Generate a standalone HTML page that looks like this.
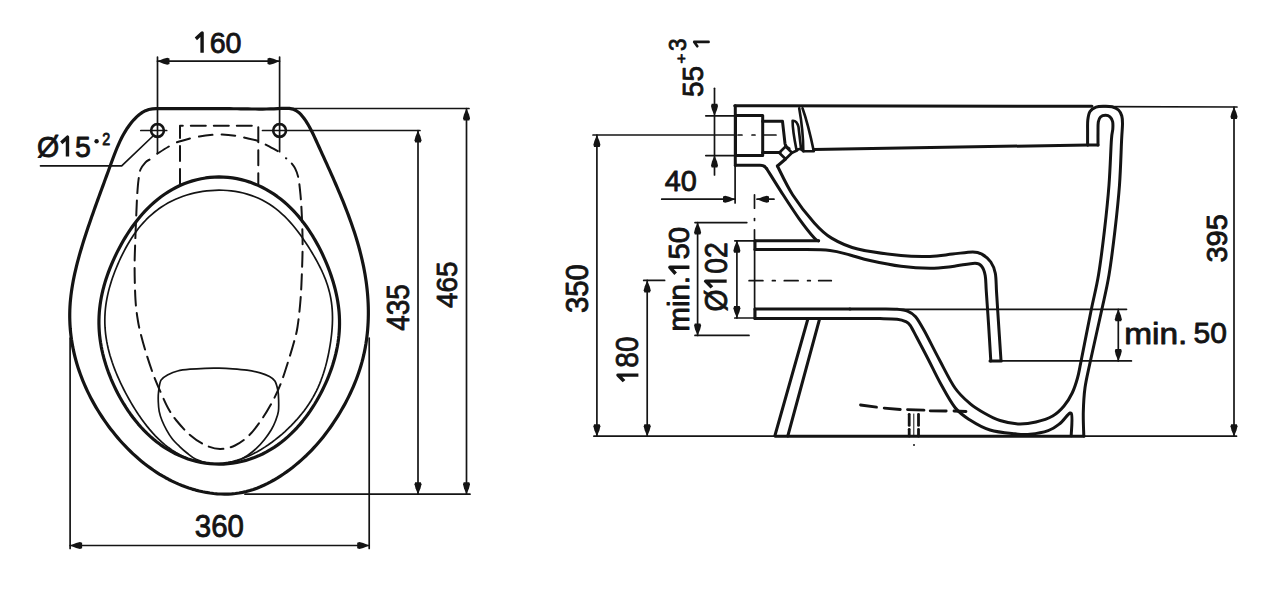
<!DOCTYPE html>
<html><head><meta charset="utf-8"><style>
html,body{margin:0;padding:0;background:#fff;overflow:hidden;}
svg{display:block;}
text{font-family:"Liberation Sans",sans-serif;fill:#141414;stroke:#141414;stroke-width:0.85px;}
.ar{fill:#141414;stroke:none;}
.inv{fill:none;stroke:none;}
</style></head><body>
<svg width="1265" height="599" viewBox="0 0 1265 599">
<g fill="none" stroke="#141414" stroke-linecap="round" stroke-linejoin="round">
<path d="M159.88,108.68 L163.64,108.69 L167.39,108.69 L171.13,108.69 L174.86,108.68 L178.58,108.68 L182.29,108.67 L185.99,108.66 L189.68,108.65 L193.36,108.65 L197.04,108.64 L200.71,108.63 L204.37,108.63 L208.02,108.63 L211.68,108.63 L215.32,108.63 L218.96,108.64 L222.60,108.66 L226.24,108.68 L229.87,108.70 L233.50,108.73 L237.13,108.77 L240.76,108.82 L244.39,108.87 L248.02,108.93 L251.66,108.98 L255.32,109.01 L259.00,109.03 L262.69,109.03 L266.42,109.00 L270.18,108.93 L273.97,108.83 L277.80,108.68 L281.68,108.47 L285.55,108.32 L289.30,108.44 L292.79,109.09 L295.94,110.45 L298.75,112.44 L301.27,114.91 L303.56,117.71 L305.67,120.69 L307.63,123.78 L309.46,126.96 L311.18,130.21 L312.83,133.52 L314.42,136.88 L315.97,140.26 L317.51,143.64 L319.05,147.03 L320.59,150.41 L322.14,153.80 L323.68,157.18 L325.22,160.56 L326.75,163.94 L328.28,167.32 L329.80,170.70 L331.32,174.09 L332.82,177.47 L334.31,180.86 L335.79,184.25 L337.25,187.64 L338.70,191.03 L340.13,194.42 L341.55,197.83 L342.94,201.23 L344.31,204.64 L345.66,208.05 L346.98,211.47 L348.28,214.89 L349.55,218.32 L350.79,221.76 L352.01,225.20 L353.19,228.65 L354.33,232.11 L355.45,235.58 L356.52,239.05 L357.56,242.53 L358.57,246.03 L359.53,249.53 L360.45,253.04 L361.32,256.56 L362.16,260.09 L362.94,263.64 L363.68,267.19 L364.37,270.76 L365.01,274.34 L365.60,277.93 L366.14,281.53 L366.62,285.15 L367.04,288.78 L367.41,292.43 L367.72,296.09 L367.97,299.76 L368.16,303.45 L368.29,307.14 L368.35,310.84 L368.35,314.54 L368.28,318.24 L368.15,321.95 L367.94,325.65 L367.67,329.35 L367.33,333.04 L366.92,336.73 L366.43,340.41 L365.88,344.07 L365.24,347.72 L364.53,351.36 L363.75,354.98 L362.88,358.58 L361.94,362.16 L360.92,365.71 L359.83,369.24 L358.67,372.75 L357.44,376.24 L356.14,379.70 L354.77,383.13 L353.35,386.54 L351.86,389.92 L350.31,393.27 L348.70,396.59 L347.04,399.88 L345.33,403.14 L343.56,406.36 L341.74,409.56 L339.88,412.72 L337.98,415.84 L336.03,418.93 L334.03,421.99 L331.99,425.00 L329.91,427.98 L327.78,430.92 L325.61,433.82 L323.38,436.68 L321.11,439.49 L318.78,442.27 L316.40,445.00 L313.97,447.68 L311.49,450.32 L308.95,452.91 L306.36,455.46 L303.71,457.95 L301.00,460.40 L298.24,462.80 L295.41,465.14 L292.53,467.44 L289.58,469.68 L286.57,471.87 L283.50,474.00 L280.36,476.07 L277.16,478.08 L273.91,480.01 L270.60,481.85 L267.24,483.60 L263.84,485.24 L260.40,486.77 L256.91,488.18 L253.40,489.44 L249.85,490.57 L246.27,491.54 L242.68,492.34 L239.06,492.99 L235.43,493.49 L231.79,493.83 L228.14,494.03 L224.49,494.09 L220.84,494.02 L217.20,493.81 L213.56,493.48 L209.95,493.02 L206.35,492.45 L202.77,491.77 L199.23,490.98 L195.71,490.08 L192.23,489.09 L188.77,487.99 L185.36,486.80 L181.97,485.51 L178.62,484.13 L175.31,482.66 L172.03,481.11 L168.79,479.46 L165.58,477.73 L162.42,475.93 L159.29,474.04 L156.21,472.07 L153.16,470.03 L150.16,467.91 L147.20,465.73 L144.28,463.48 L141.40,461.15 L138.57,458.77 L135.79,456.32 L133.05,453.82 L130.35,451.25 L127.71,448.63 L125.11,445.96 L122.56,443.23 L120.06,440.46 L117.61,437.64 L115.22,434.77 L112.87,431.86 L110.58,428.91 L108.34,425.93 L106.15,422.90 L104.02,419.85 L101.94,416.76 L99.92,413.64 L97.96,410.50 L96.05,407.32 L94.21,404.13 L92.42,400.90 L90.69,397.66 L89.03,394.39 L87.42,391.09 L85.89,387.77 L84.41,384.44 L83.00,381.08 L81.65,377.69 L80.38,374.29 L79.17,370.87 L78.02,367.43 L76.95,363.98 L75.95,360.50 L75.02,357.01 L74.16,353.50 L73.37,349.97 L72.66,346.43 L72.03,342.87 L71.46,339.30 L70.98,335.72 L70.57,332.12 L70.24,328.51 L69.99,324.89 L69.83,321.26 L69.74,317.62 L69.73,313.97 L69.81,310.31 L69.97,306.64 L70.21,302.96 L70.54,299.27 L70.94,295.58 L71.42,291.89 L71.96,288.20 L72.58,284.50 L73.25,280.81 L73.98,277.12 L74.77,273.44 L75.61,269.77 L76.49,266.10 L77.42,262.44 L78.39,258.80 L79.39,255.17 L80.43,251.56 L81.49,247.96 L82.58,244.38 L83.69,240.83 L84.82,237.30 L85.96,233.79 L87.11,230.30 L88.26,226.84 L89.43,223.40 L90.61,219.97 L91.80,216.56 L92.99,213.16 L94.19,209.78 L95.40,206.40 L96.62,203.02 L97.84,199.65 L99.07,196.28 L100.30,192.90 L101.54,189.52 L102.79,186.13 L104.04,182.73 L105.29,179.32 L106.55,175.90 L107.81,172.45 L109.07,168.99 L110.33,165.51 L111.61,162.00 L112.90,158.49 L114.22,154.98 L115.58,151.48 L116.99,148.00 L118.47,144.56 L120.03,141.16 L121.68,137.82 L123.42,134.54 L125.28,131.34 L127.25,128.23 L129.37,125.22 L131.63,122.31 L134.04,119.52 L136.63,116.89 L139.40,114.48 L142.35,112.39 L145.50,110.71 L148.86,109.54 L152.42,108.93 L156.12,108.71Z" stroke-width="3.2" />
<path d="M98.95,320.00 L99.07,316.23 L99.30,312.47 L99.64,308.72 L100.09,304.98 L100.64,301.25 L101.29,297.55 L102.05,293.86 L102.90,290.19 L103.84,286.54 L104.87,282.92 L105.98,279.31 L107.18,275.73 L108.46,272.16 L109.81,268.62 L111.24,265.09 L112.73,261.58 L114.31,258.08 L115.95,254.60 L117.67,251.13 L119.46,247.68 L121.32,244.24 L123.27,240.81 L125.30,237.39 L127.42,234.00 L129.62,230.62 L131.93,227.28 L134.33,223.96 L136.83,220.68 L139.45,217.44 L142.17,214.26 L145.01,211.13 L147.97,208.08 L151.05,205.11 L154.25,202.23 L157.58,199.45 L161.02,196.79 L164.58,194.25 L168.26,191.85 L172.05,189.59 L175.95,187.49 L179.94,185.56 L184.03,183.81 L188.21,182.24 L192.46,180.87 L196.78,179.69 L201.15,178.72 L205.57,177.96 L210.03,177.41 L214.51,177.08 L219.00,176.97 L223.49,177.07 L227.97,177.39 L232.43,177.92 L236.85,178.67 L241.23,179.62 L245.56,180.77 L249.82,182.12 L254.01,183.66 L258.11,185.39 L262.12,187.28 L266.04,189.34 L269.85,191.56 L273.56,193.93 L277.15,196.43 L280.62,199.06 L283.98,201.80 L287.22,204.65 L290.33,207.60 L293.33,210.63 L296.20,213.74 L298.96,216.92 L301.60,220.16 L304.13,223.44 L306.55,226.77 L308.86,230.14 L311.08,233.53 L313.20,236.95 L315.22,240.40 L317.16,243.86 L319.02,247.33 L320.80,250.82 L322.49,254.32 L324.12,257.83 L325.67,261.36 L327.15,264.90 L328.55,268.45 L329.89,272.01 L331.15,275.60 L332.34,279.20 L333.45,282.81 L334.47,286.45 L335.42,290.11 L336.27,293.79 L337.04,297.48 L337.71,301.20 L338.28,304.93 L338.75,308.68 L339.11,312.44 L339.36,316.22 L339.50,320.00 L339.54,323.79 L339.45,327.58 L339.26,331.37 L338.95,335.15 L338.53,338.93 L338.00,342.70 L337.37,346.46 L336.63,350.20 L335.79,353.93 L334.84,357.64 L333.81,361.33 L332.68,365.01 L331.46,368.66 L330.15,372.30 L328.76,375.92 L327.28,379.53 L325.72,383.11 L324.07,386.68 L322.34,390.23 L320.53,393.77 L318.63,397.28 L316.64,400.78 L314.56,404.25 L312.38,407.69 L310.11,411.11 L307.73,414.49 L305.25,417.83 L302.66,421.13 L299.96,424.37 L297.14,427.55 L294.21,430.66 L291.15,433.70 L287.98,436.64 L284.69,439.49 L281.28,442.23 L277.75,444.85 L274.11,447.35 L270.35,449.70 L266.49,451.91 L262.53,453.96 L258.47,455.84 L254.32,457.55 L250.09,459.07 L245.78,460.41 L241.42,461.54 L237.00,462.48 L232.54,463.21 L228.04,463.73 L223.53,464.04 L219.00,464.13 L214.47,464.01 L209.96,463.68 L205.47,463.14 L201.01,462.38 L196.60,461.42 L192.24,460.26 L187.95,458.91 L183.73,457.36 L179.59,455.64 L175.55,453.74 L171.59,451.67 L167.75,449.45 L164.00,447.09 L160.38,444.58 L156.86,441.95 L153.47,439.21 L150.19,436.35 L147.03,433.40 L143.99,430.37 L141.08,427.25 L138.27,424.07 L135.59,420.83 L133.01,417.53 L130.55,414.19 L128.19,410.81 L125.93,407.40 L123.77,403.96 L121.71,400.49 L119.73,397.00 L117.85,393.49 L116.06,389.96 L114.35,386.41 L112.73,382.85 L111.18,379.27 L109.73,375.68 L108.35,372.07 L107.06,368.44 L105.85,364.80 L104.74,361.14 L103.71,357.46 L102.78,353.77 L101.94,350.06 L101.19,346.33 L100.55,342.59 L100.02,338.85 L99.58,335.09 L99.26,331.32 L99.05,327.55 L98.94,323.77Z" stroke-width="3.2" />
<path d="M104.82,320.00 L104.89,316.41 L105.08,312.83 L105.37,309.26 L105.78,305.70 L106.29,302.15 L106.91,298.62 L107.62,295.10 L108.43,291.61 L109.33,288.14 L110.32,284.69 L111.38,281.26 L112.52,277.84 L113.73,274.45 L115.01,271.07 L116.36,267.70 L117.77,264.35 L119.24,261.00 L120.79,257.67 L122.40,254.35 L124.08,251.04 L125.85,247.74 L127.69,244.47 L129.63,241.21 L131.66,237.98 L133.79,234.79 L136.03,231.65 L138.38,228.56 L140.85,225.53 L143.43,222.58 L146.14,219.71 L148.96,216.94 L151.91,214.28 L154.97,211.73 L158.15,209.31 L161.43,207.02 L164.82,204.87 L168.31,202.86 L171.88,200.99 L175.54,199.28 L179.27,197.71 L183.06,196.30 L186.91,195.03 L190.82,193.91 L194.76,192.94 L198.75,192.12 L202.76,191.44 L206.80,190.91 L210.85,190.53 L214.92,190.29 L219.00,190.20 L223.08,190.27 L227.15,190.49 L231.21,190.88 L235.24,191.43 L239.25,192.14 L243.22,193.03 L247.14,194.09 L251.01,195.33 L254.81,196.74 L258.53,198.32 L262.17,200.08 L265.72,202.00 L269.16,204.08 L272.50,206.31 L275.72,208.67 L278.83,211.16 L281.82,213.77 L284.70,216.47 L287.46,219.26 L290.11,222.13 L292.65,225.05 L295.10,228.02 L297.45,231.02 L299.71,234.05 L301.90,237.10 L304.02,240.16 L306.08,243.23 L308.08,246.31 L310.02,249.40 L311.91,252.49 L313.76,255.60 L315.55,258.73 L317.28,261.88 L318.96,265.05 L320.57,268.25 L322.10,271.48 L323.56,274.75 L324.93,278.06 L326.20,281.41 L327.36,284.79 L328.42,288.21 L329.35,291.67 L330.17,295.15 L330.86,298.66 L331.42,302.19 L331.87,305.74 L332.19,309.30 L332.40,312.87 L332.49,316.43 L332.49,320.00 L332.39,323.56 L332.20,327.12 L331.93,330.68 L331.59,334.22 L331.17,337.77 L330.70,341.31 L330.16,344.85 L329.56,348.39 L328.91,351.93 L328.19,355.48 L327.40,359.03 L326.55,362.58 L325.62,366.14 L324.60,369.69 L323.50,373.25 L322.30,376.79 L321.00,380.32 L319.60,383.84 L318.08,387.33 L316.44,390.80 L314.69,394.23 L312.82,397.62 L310.83,400.96 L308.72,404.26 L306.50,407.50 L304.17,410.69 L301.72,413.83 L299.17,416.91 L296.52,419.94 L293.77,422.92 L290.93,425.84 L287.99,428.71 L284.96,431.53 L281.83,434.29 L278.61,437.00 L275.30,439.64 L271.89,442.22 L268.38,444.72 L264.77,447.14 L261.06,449.46 L257.25,451.66 L253.34,453.74 L249.32,455.66 L245.22,457.42 L241.02,459.00 L236.73,460.38 L232.38,461.53 L227.96,462.45 L223.50,463.12 L219.00,463.52 L214.49,463.65 L209.97,463.51 L205.48,463.07 L201.02,462.36 L196.61,461.37 L192.27,460.10 L188.03,458.57 L183.88,456.80 L179.84,454.79 L175.93,452.57 L172.14,450.15 L168.50,447.55 L165.00,444.80 L161.63,441.91 L158.41,438.91 L155.33,435.81 L152.39,432.63 L149.57,429.40 L146.89,426.11 L144.32,422.79 L141.86,419.45 L139.50,416.10 L137.24,412.73 L135.08,409.37 L132.99,406.01 L130.99,402.65 L129.06,399.29 L127.20,395.94 L125.41,392.60 L123.68,389.25 L122.02,385.91 L120.42,382.56 L118.88,379.21 L117.41,375.85 L116.00,372.48 L114.66,369.10 L113.39,365.70 L112.19,362.29 L111.07,358.86 L110.02,355.41 L109.07,351.94 L108.19,348.45 L107.41,344.94 L106.73,341.42 L106.14,337.87 L105.66,334.32 L105.29,330.75 L105.02,327.17 L104.86,323.59Z" stroke-width="1.7" />
<path d="M161.00,380.20 C162.67,377.20 165.73,376.03 168.50,374.50 C171.27,372.97 174.02,371.88 177.60,371.00 C181.18,370.12 185.42,369.65 190.00,369.20 C194.58,368.75 200.27,368.47 205.10,368.30 C209.93,368.13 214.40,368.12 219.00,368.20 C223.60,368.28 228.03,368.47 232.70,368.80 C237.37,369.13 242.42,369.52 247.00,370.20 C251.58,370.88 256.45,371.85 260.20,372.90 C263.95,373.95 267.05,375.15 269.50,376.50 C271.95,377.85 273.52,378.75 274.90,381.00 C276.28,383.25 277.18,387.00 277.80,390.00 C278.42,393.00 278.50,395.43 278.60,399.00 C278.70,402.57 278.92,407.73 278.40,411.40 C277.88,415.07 276.68,417.93 275.50,421.00 C274.32,424.07 273.13,426.72 271.30,429.80 C269.47,432.88 266.95,436.43 264.50,439.50 C262.05,442.57 259.43,445.53 256.60,448.20 C253.77,450.87 250.57,453.45 247.50,455.50 C244.43,457.55 241.45,459.22 238.20,460.50 C234.95,461.78 231.20,462.62 228.00,463.20 C224.80,463.78 222.17,463.98 219.00,464.00 C215.83,464.02 212.85,464.10 209.00,463.30 C205.15,462.50 199.57,460.92 195.90,459.20 C192.23,457.48 189.75,455.15 187.00,453.00 C184.25,450.85 181.90,448.72 179.40,446.30 C176.90,443.88 174.15,441.25 172.00,438.50 C169.85,435.75 168.17,432.80 166.50,429.80 C164.83,426.80 163.22,423.57 162.00,420.50 C160.78,417.43 159.82,414.48 159.20,411.40 C158.58,408.32 158.42,405.15 158.30,402.00 C158.18,398.85 158.05,396.13 158.50,392.50 C158.95,388.87 159.33,383.20 161.00,380.20Z" stroke-width="1.7" />
<circle cx="157.5" cy="130.5" r="6.4" stroke-width="2.6"/>
<circle cx="279.6" cy="130.5" r="6.4" stroke-width="2.6"/>
<line x1="140.80" y1="130.50" x2="166.70" y2="130.50" stroke-width="1.7" />
<line x1="262.50" y1="130.50" x2="420.00" y2="130.50" stroke-width="1.7" />
<line x1="157.50" y1="57.00" x2="157.50" y2="153.30" stroke-width="1.7" />
<line x1="279.60" y1="57.00" x2="279.60" y2="151.70" stroke-width="1.7" />
<path d="M157.30,153.70 C159.08,152.58 164.77,148.88 168.00,147.00 C171.23,145.12 173.03,143.83 176.70,142.40 C180.37,140.97 186.22,139.40 190.00,138.40 C193.78,137.40 195.60,137.00 199.40,136.40 C203.20,135.80 209.02,135.13 212.80,134.80 C216.58,134.47 218.32,134.25 222.10,134.40 C225.88,134.55 231.72,135.15 235.50,135.70 C239.28,136.25 241.02,136.82 244.80,137.70 C248.58,138.58 254.40,139.67 258.20,141.00 C262.00,142.33 264.15,143.92 267.60,145.70 C271.05,147.48 277.02,150.70 278.90,151.70" stroke-width="2.0" stroke-dasharray="13.5,9.3"/>
<path d="M180.00,184.00 L180.00,125.80 L258.30,125.80 L258.30,184.00" stroke-width="2.0" stroke-dasharray="15,8"/>
<path d="M149.50,159.60 C148.83,160.05 147.00,160.65 145.50,162.30 C144.00,163.95 141.67,166.55 140.50,169.50 C139.33,172.45 139.05,175.75 138.50,180.00 C137.95,184.25 137.55,189.67 137.20,195.00 C136.85,200.33 136.72,204.50 136.40,212.00 C136.08,219.50 135.60,230.67 135.30,240.00 C135.00,249.33 134.57,258.00 134.60,268.00 C134.63,278.00 134.97,291.33 135.50,300.00 C136.03,308.67 136.88,314.17 137.80,320.00 C138.72,325.83 139.52,329.17 141.00,335.00 C142.48,340.83 144.62,348.33 146.70,355.00 C148.78,361.67 151.12,368.67 153.50,375.00 C155.88,381.33 158.58,387.50 161.00,393.00 C163.42,398.50 165.50,403.50 168.00,408.00 C170.50,412.50 172.33,415.50 176.00,420.00 C179.67,424.50 185.17,430.83 190.00,435.00 C194.83,439.17 200.00,442.67 205.00,445.00 C210.00,447.33 215.00,448.92 220.00,449.00 C225.00,449.08 230.17,447.75 235.00,445.50 C239.83,443.25 244.50,439.92 249.00,435.50 C253.50,431.08 257.95,424.92 262.00,419.00 C266.05,413.08 270.13,406.00 273.30,400.00 C276.47,394.00 278.55,389.33 281.00,383.00 C283.45,376.67 285.83,368.83 288.00,362.00 C290.17,355.17 292.42,347.83 294.00,342.00 C295.58,336.17 296.42,334.00 297.50,327.00 C298.58,320.00 299.75,309.50 300.50,300.00 C301.25,290.50 301.65,279.50 302.00,270.00 C302.35,260.50 302.63,252.17 302.60,243.00 C302.57,233.83 302.15,223.00 301.80,215.00 C301.45,207.00 301.07,201.17 300.50,195.00 C299.93,188.83 299.30,182.43 298.40,178.00 C297.50,173.57 296.42,171.07 295.10,168.40 C293.78,165.73 292.02,163.70 290.50,162.00 C288.98,160.30 286.75,158.83 286.00,158.20" stroke-width="2.0" stroke-dasharray="15,7.5"/>
<line x1="157.50" y1="61.20" x2="279.50" y2="61.20" stroke-width="1.7" />
<path d="M157.50,61.20 L163.50,58.68 L167.34,57.70 L169.50,58.40 L169.50,64.00 L167.34,64.70 L163.50,63.72Z" class="ar"/>
<path d="M279.50,61.20 L273.50,63.72 L269.66,64.70 L267.50,64.00 L267.50,58.40 L269.66,57.70 L273.50,58.68Z" class="ar"/>
<path transform="translate(193.71 52.80) scale(28.6452 29.7183)" d="M0.0750,-0.47 L0.2925,-0.665 L0.2925,0" stroke-width="0.1186" stroke-linejoin="round" stroke-linecap="butt"/>
<text transform="translate(193.71 52.80) scale(0.9639 1)" font-size="29.72"><tspan class="inv">1</tspan>60</text>
<path d="M40.50,165.80 L121.70,165.80 L152.50,136.50" stroke-width="1.7" />
<path transform="translate(36.96 156.52) scale(28.5083 29.0541)" d="M0.8528,-0.47 L1.0703,-0.665 L1.0703,0" stroke-width="0.1193" stroke-linejoin="round" stroke-linecap="butt"/>
<text transform="translate(36.96 156.52) scale(0.9812 1)" font-size="29.05">Ø<tspan class="inv">1</tspan>5</text>
<circle cx="96.6" cy="141.3" r="2.2" class="ar"/>
<text transform="translate(102.28 144.80) scale(0.8584 1)" font-size="16.71">2</text>
<line x1="282.00" y1="108.50" x2="469.00" y2="108.50" stroke-width="1.7" />
<line x1="245.00" y1="494.20" x2="470.00" y2="494.20" stroke-width="1.7" />
<line x1="466.50" y1="108.50" x2="466.50" y2="494.20" stroke-width="1.7" />
<path d="M466.50,108.50 L469.02,114.50 L470.00,118.34 L469.30,120.50 L463.70,120.50 L463.00,118.34 L463.98,114.50Z" class="ar"/>
<path d="M466.50,494.20 L463.98,488.20 L463.00,484.36 L463.70,482.20 L469.30,482.20 L470.00,484.36 L469.02,488.20Z" class="ar"/>
<line x1="418.00" y1="130.50" x2="418.00" y2="494.20" stroke-width="1.7" />
<path d="M418.00,130.50 L420.52,136.50 L421.50,140.34 L420.80,142.50 L415.20,142.50 L414.50,140.34 L415.48,136.50Z" class="ar"/>
<path d="M418.00,494.20 L415.48,488.20 L414.50,484.36 L415.20,482.20 L420.80,482.20 L421.50,484.36 L420.52,488.20Z" class="ar"/>
<text transform="translate(408.99 330.86) rotate(-90) scale(0.9145 1)" font-size="30.56">435</text>
<text transform="translate(457.00 308.06) rotate(-90) scale(0.9361 1)" font-size="29.86">465</text>
<line x1="70.10" y1="338.00" x2="70.10" y2="548.50" stroke-width="1.7" />
<line x1="369.20" y1="338.00" x2="369.20" y2="548.50" stroke-width="1.7" />
<line x1="70.10" y1="545.50" x2="369.20" y2="545.50" stroke-width="1.7" />
<path d="M70.10,545.50 L76.10,542.98 L79.94,542.00 L82.10,542.70 L82.10,548.30 L79.94,549.00 L76.10,548.02Z" class="ar"/>
<path d="M369.20,545.50 L363.20,548.02 L359.36,549.00 L357.20,548.30 L357.20,542.70 L359.36,542.00 L363.20,542.98Z" class="ar"/>
<text transform="translate(194.82 537.39) scale(0.9499 1)" font-size="30.99">360</text>
<line x1="705.80" y1="115.80" x2="735.00" y2="115.80" stroke-width="1.7" />
<line x1="705.80" y1="155.60" x2="735.00" y2="155.60" stroke-width="1.7" />
<line x1="714.50" y1="88.30" x2="714.50" y2="175.00" stroke-width="1.7" />
<path d="M714.50,115.80 L711.98,109.80 L711.00,105.96 L711.70,103.80 L717.30,103.80 L718.00,105.96 L717.02,109.80Z" class="ar"/>
<path d="M714.50,155.60 L717.02,161.60 L718.00,165.44 L717.30,167.60 L711.70,167.60 L711.00,165.44 L711.98,161.60Z" class="ar"/>
<text transform="translate(702.91 96.92) rotate(-90) scale(0.9786 1)" font-size="28.57">55</text>
<text transform="translate(685.78 63.45) rotate(-90) scale(1.1161 1)" font-size="15.31">+</text>
<text transform="translate(686.06 50.90) rotate(-90) scale(0.9475 1)" font-size="23.80">3</text>
<path d="M708.6,41.9 L694.2,41.9 L697.3,46.3" stroke-width="2.6" />
<line x1="661.70" y1="199.20" x2="735.00" y2="199.20" stroke-width="1.7" />
<path d="M735.00,199.20 L729.00,201.72 L725.16,202.70 L723.00,202.00 L723.00,196.40 L725.16,195.70 L729.00,196.68Z" class="ar"/>
<line x1="757.00" y1="199.20" x2="774.00" y2="199.20" stroke-width="1.7" />
<path d="M757.00,199.20 L763.00,196.68 L766.84,195.70 L769.00,196.40 L769.00,202.00 L766.84,202.70 L763.00,201.72Z" class="ar"/>
<text transform="translate(664.82 191.10) scale(0.9756 1)" font-size="29.58">40</text>
<line x1="593.00" y1="135.00" x2="735.00" y2="135.00" stroke-width="1.7" />
<line x1="596.90" y1="135.00" x2="596.90" y2="436.20" stroke-width="1.7" />
<path d="M596.90,135.00 L599.42,141.00 L600.40,144.84 L599.70,147.00 L594.10,147.00 L593.40,144.84 L594.38,141.00Z" class="ar"/>
<path d="M596.90,436.20 L594.38,430.20 L593.40,426.36 L594.10,424.20 L599.70,424.20 L600.40,426.36 L599.42,430.20Z" class="ar"/>
<text transform="translate(588.39 313.07) rotate(-90) scale(0.9589 1)" font-size="30.56">350</text>
<line x1="643.70" y1="280.40" x2="664.60" y2="280.40" stroke-width="1.7" />
<line x1="647.20" y1="280.40" x2="647.20" y2="436.20" stroke-width="1.7" />
<path d="M647.20,280.40 L649.72,286.40 L650.70,290.24 L650.00,292.40 L644.40,292.40 L643.70,290.24 L644.68,286.40Z" class="ar"/>
<path d="M647.20,436.20 L644.68,430.20 L643.70,426.36 L644.40,424.20 L650.00,424.20 L650.70,426.36 L649.72,430.20Z" class="ar"/>
<path transform="translate(638.39 383.24) rotate(-90) scale(28.0000 30.5634)" d="M0.0750,-0.47 L0.2925,-0.665 L0.2925,0" stroke-width="0.1178" stroke-linejoin="round" stroke-linecap="butt"/>
<text transform="translate(638.39 383.24) rotate(-90) scale(0.9161 1)" font-size="30.56"><tspan class="inv">1</tspan>80</text>
<line x1="695.00" y1="222.60" x2="746.80" y2="222.60" stroke-width="1.7" />
<line x1="695.00" y1="335.40" x2="749.00" y2="335.40" stroke-width="1.7" />
<line x1="697.60" y1="222.60" x2="697.60" y2="335.40" stroke-width="1.7" />
<path d="M697.60,222.60 L700.12,228.60 L701.10,232.44 L700.40,234.60 L694.80,234.60 L694.10,232.44 L695.08,228.60Z" class="ar"/>
<path d="M697.60,335.40 L695.08,329.40 L694.10,325.56 L694.80,323.40 L700.40,323.40 L701.10,325.56 L700.12,329.40Z" class="ar"/>
<path transform="translate(689.41 331.56) rotate(-90) scale(29.4493 29.3243)" d="M1.9642,-0.47 L2.1817,-0.665 L2.1817,0" stroke-width="0.1190" stroke-linejoin="round" stroke-linecap="butt"/>
<text transform="translate(689.41 331.56) rotate(-90) scale(1.0043 1)" font-size="29.32">min.<tspan class="inv">1</tspan>50</text>
<line x1="734.80" y1="240.80" x2="755.00" y2="240.80" stroke-width="1.7" />
<line x1="734.80" y1="318.00" x2="755.00" y2="318.00" stroke-width="1.7" />
<line x1="736.90" y1="240.80" x2="736.90" y2="318.00" stroke-width="1.7" />
<path d="M736.90,240.80 L739.42,246.80 L740.40,250.64 L739.70,252.80 L734.10,252.80 L733.40,250.64 L734.38,246.80Z" class="ar"/>
<path d="M736.90,318.00 L734.38,312.00 L733.40,308.16 L734.10,306.00 L739.70,306.00 L740.40,308.16 L739.42,312.00Z" class="ar"/>
<path transform="translate(726.67 311.43) rotate(-90) scale(28.3051 31.4865)" d="M0.8528,-0.47 L1.0703,-0.665 L1.0703,0" stroke-width="0.1170" stroke-linejoin="round" stroke-linecap="butt"/>
<text transform="translate(726.67 311.43) rotate(-90) scale(0.8990 1)" font-size="31.49">Ø<tspan class="inv">1</tspan>02</text>
<line x1="1234.00" y1="107.00" x2="1234.00" y2="436.20" stroke-width="1.7" />
<path d="M1234.00,107.00 L1236.52,113.00 L1237.50,116.84 L1236.80,119.00 L1231.20,119.00 L1230.50,116.84 L1231.48,113.00Z" class="ar"/>
<path d="M1234.00,436.20 L1231.48,430.20 L1230.50,426.36 L1231.20,424.20 L1236.80,424.20 L1237.50,426.36 L1236.52,430.20Z" class="ar"/>
<text transform="translate(1227.10 262.56) rotate(-90) scale(0.9710 1)" font-size="29.86">395</text>
<line x1="1118.30" y1="309.30" x2="1118.30" y2="360.90" stroke-width="1.7" />
<path d="M1118.30,309.30 L1120.82,315.30 L1121.80,319.14 L1121.10,321.30 L1115.50,321.30 L1114.80,319.14 L1115.78,315.30Z" class="ar"/>
<path d="M1118.30,360.90 L1115.78,354.90 L1114.80,351.06 L1115.50,348.90 L1121.10,348.90 L1121.80,351.06 L1120.82,354.90Z" class="ar"/>
<text transform="translate(1124.16 343.70) scale(1.1239 1)" font-size="29.73">min.</text>
<text transform="translate(1193.60 343.40) scale(1.0000 1)" font-size="30.00">50</text>
<line x1="734.70" y1="105.80" x2="1092.00" y2="106.30" stroke-width="3.0" />
<line x1="1100.00" y1="106.60" x2="1237.00" y2="107.00" stroke-width="1.7" />
<line x1="735.30" y1="105.80" x2="735.30" y2="165.20" stroke-width="3.0" />
<line x1="735.10" y1="165.00" x2="735.10" y2="203.00" stroke-width="1.7" />
<path d="M735.50,115.60 L762.70,115.60 L762.70,155.40 L735.50,155.40Z" stroke-width="3.0" />
<line x1="738.00" y1="135.00" x2="742.00" y2="135.00" stroke-width="1.7" />
<line x1="752.00" y1="135.00" x2="755.00" y2="135.00" stroke-width="1.7" />
<line x1="763.00" y1="135.00" x2="776.00" y2="135.00" stroke-width="1.7" />
<path d="M762.7,121.3 L782.5,121.3 L785,143.7 C785.5,146 787,147.5 789,148.5" stroke-width="3.0" />
<line x1="762.70" y1="152.50" x2="780.00" y2="152.50" stroke-width="3.0" />
<path d="M779.20,152.70 L785.60,146.50 L792.00,152.70 L785.60,159.00Z" stroke-width="2.6" />
<path d="M792.6,120.8 C796,120.5 797.5,123 798.5,127 L801,148.5 L796.5,150 C794.5,140 792.5,130 792.6,120.8Z" stroke-width="2.6" />
<line x1="792.00" y1="152.70" x2="797.00" y2="150.50" stroke-width="2.6" />
<line x1="801.00" y1="149.50" x2="803.50" y2="151.20" stroke-width="2.6" />
<path d="M799.2,108.3 C802.2,125 803.3,140 803.3,151.3 L813.8,151.3 C810,133 806,118 802.5,108.3" stroke-width="2.6" />
<line x1="813.80" y1="149.60" x2="1088.00" y2="144.90" stroke-width="3.0" />
<line x1="1088.00" y1="144.90" x2="1098.00" y2="144.90" stroke-width="3.0" />
<path d="M1087.60,144.90 C1087.60,142.75 1087.57,136.15 1087.60,132.00 C1087.63,127.85 1087.40,123.42 1087.80,120.00 C1088.20,116.58 1088.63,113.63 1090.00,111.50 C1091.37,109.37 1093.67,108.07 1096.00,107.20 C1098.33,106.33 1101.33,106.37 1104.00,106.30 C1106.67,106.23 1109.58,106.18 1112.00,106.80 C1114.42,107.42 1116.87,108.47 1118.50,110.00 C1120.13,111.53 1121.13,113.67 1121.80,116.00 C1122.47,118.33 1122.53,120.00 1122.50,124.00 C1122.47,128.00 1122.10,129.83 1121.60,140.00 C1121.10,150.17 1120.60,170.00 1119.50,185.00 C1118.40,200.00 1116.75,215.00 1115.00,230.00 C1113.25,245.00 1111.25,261.50 1109.00,275.00 C1106.75,288.50 1104.62,296.58 1101.50,311.00 C1098.38,325.42 1093.05,348.70 1090.30,361.50 C1087.55,374.30 1086.17,379.33 1085.00,387.80 C1083.83,396.27 1083.50,404.27 1083.30,412.30 C1083.10,420.33 1083.72,432.05 1083.80,436.00" stroke-width="3.0" />
<path d="M1098.00,145.00 C1098.00,143.00 1097.95,136.83 1098.00,133.00 C1098.05,129.17 1097.88,124.67 1098.30,122.00 C1098.72,119.33 1099.30,118.12 1100.50,117.00 C1101.70,115.88 1103.92,115.33 1105.50,115.30 C1107.08,115.27 1108.82,115.77 1110.00,116.80 C1111.18,117.83 1112.13,119.47 1112.60,121.50 C1113.07,123.53 1113.00,125.92 1112.80,129.00 C1112.60,132.08 1112.03,130.67 1111.40,140.00 C1110.77,149.33 1110.15,170.00 1109.00,185.00 C1107.85,200.00 1106.25,215.00 1104.50,230.00 C1102.75,245.00 1100.75,261.50 1098.50,275.00 C1096.25,288.50 1093.92,296.58 1091.00,311.00 C1088.08,325.42 1083.25,350.33 1081.00,361.50 C1078.75,372.67 1078.97,372.75 1077.50,378.00 C1076.03,383.25 1074.45,388.33 1072.20,393.00 C1069.95,397.67 1067.25,402.17 1064.00,406.00 C1060.75,409.83 1057.37,413.33 1052.70,416.00 C1048.03,418.67 1041.78,420.68 1036.00,422.00 C1030.22,423.32 1024.00,424.15 1018.00,423.90 C1012.00,423.65 1005.50,422.23 1000.00,420.50 C994.50,418.77 990.00,416.32 985.00,413.50 C980.00,410.68 975.00,407.85 970.00,403.60 C965.00,399.35 960.08,395.27 955.00,388.00 C949.92,380.73 944.62,369.53 939.50,360.00 C934.38,350.47 928.28,338.02 924.30,330.80 C920.32,323.58 918.32,319.95 915.60,316.70 C912.88,313.45 911.08,312.55 908.00,311.30 C904.92,310.05 901.77,309.60 897.10,309.20 C892.43,308.80 887.85,308.95 880.00,308.90 C872.15,308.85 855.00,308.90 850.00,308.90" stroke-width="3.0" />
<line x1="755.00" y1="308.90" x2="850.00" y2="308.90" stroke-width="3.0" />
<path d="M1071.20,435.80 C1071.20,432.03 1073.07,415.25 1071.20,413.20 C1069.33,411.15 1063.83,420.60 1060.00,423.50 C1056.17,426.40 1053.20,428.82 1048.20,430.60 C1043.20,432.38 1035.53,433.67 1030.00,434.20 C1024.47,434.73 1021.67,434.50 1015.00,433.80 C1008.33,433.10 997.50,432.30 990.00,430.00 C982.50,427.70 975.83,423.75 970.00,420.00 C964.17,416.25 960.00,413.75 955.00,407.50 C950.00,401.25 944.40,390.42 940.00,382.50 C935.60,374.58 932.48,367.53 928.60,360.00 C924.72,352.47 919.77,343.07 916.70,337.30 C913.63,331.53 912.02,328.02 910.20,325.40 C908.38,322.78 907.98,322.63 905.80,321.60 C903.62,320.57 901.40,319.70 897.10,319.20 C892.80,318.70 887.85,318.72 880.00,318.60 C872.15,318.48 855.00,318.52 850.00,318.50" stroke-width="3.0" />
<line x1="755.00" y1="318.50" x2="850.00" y2="318.50" stroke-width="3.0" />
<line x1="755.00" y1="308.90" x2="755.00" y2="318.50" stroke-width="3.0" />
<line x1="754.60" y1="240.80" x2="754.60" y2="318.50" stroke-width="1.7" />
<line x1="593.90" y1="436.20" x2="1236.50" y2="436.20" stroke-width="1.7" />
<line x1="776.00" y1="436.20" x2="1084.00" y2="436.20" stroke-width="3.0" />
<line x1="808.00" y1="318.50" x2="774.80" y2="436.00" stroke-width="3.0" />
<line x1="819.70" y1="318.50" x2="787.80" y2="436.00" stroke-width="3.0" />
<path d="M735.3,165.2 L760,165.2 C763,165.2 765,166 766.7,168.7" stroke-width="3.0" />
<path d="M766.70,168.70 C769.20,172.68 776.32,184.28 781.70,192.60 C787.08,200.92 793.57,211.02 799.00,218.60 C804.43,226.18 811.03,234.40 814.30,238.10 C817.57,241.80 817.88,240.35 818.60,240.80" stroke-width="3.0" />
<line x1="755.00" y1="240.80" x2="818.60" y2="240.80" stroke-width="3.0" />
<line x1="755.00" y1="240.80" x2="755.00" y2="249.50" stroke-width="3.0" />
<line x1="785.60" y1="159.00" x2="777.40" y2="166.00" stroke-width="3.0" />
<path d="M777.40,166.00 C779.93,170.78 786.45,185.22 792.60,194.70 C798.75,204.18 807.80,215.67 814.30,222.90 C820.80,230.13 824.37,233.75 831.60,238.10 C838.83,242.45 846.13,246.10 857.70,249.00 C869.27,251.90 888.95,254.27 901.00,255.50 C913.05,256.73 921.42,256.63 930.00,256.40 C938.58,256.17 945.37,254.85 952.50,254.10 C959.63,253.35 967.92,251.90 972.80,251.90 C977.68,251.90 978.80,252.42 981.80,254.10 C984.80,255.78 988.55,258.80 990.80,262.00 C993.05,265.20 994.35,268.42 995.30,273.30 C996.25,278.18 996.08,284.85 996.50,291.30 C996.92,297.75 997.05,300.47 997.80,312.00 C998.55,323.53 1000.47,352.42 1001.00,360.50" stroke-width="3.0" />
<path d="M755.00,249.50 C762.50,249.50 787.50,249.33 800.00,249.50 C812.50,249.67 821.67,249.58 830.00,250.50 C838.33,251.42 843.33,253.33 850.00,255.00 C856.67,256.67 861.50,258.62 870.00,260.50 C878.50,262.38 891.00,265.00 901.00,266.30 C911.00,267.60 921.42,268.27 930.00,268.30 C938.58,268.33 945.00,267.35 952.50,266.50 C960.00,265.65 970.12,263.20 975.00,263.20 C979.88,263.20 980.10,264.45 981.80,266.50 C983.50,268.55 984.45,271.37 985.20,275.50 C985.95,279.63 985.73,283.05 986.30,291.30 C986.87,299.55 987.85,313.38 988.60,325.00 C989.35,336.62 990.43,355.00 990.80,361.00" stroke-width="3.0" />
<line x1="990.00" y1="361.00" x2="1001.25" y2="361.00" stroke-width="3.0" />
<line x1="1001.00" y1="360.90" x2="1131.40" y2="360.90" stroke-width="1.7" />
<line x1="900.00" y1="309.30" x2="1126.50" y2="309.30" stroke-width="1.7" />
<line x1="749.10" y1="280.70" x2="762.90" y2="280.70" stroke-width="1.7" />
<line x1="772.40" y1="280.70" x2="775.20" y2="280.70" stroke-width="1.7" />
<line x1="784.30" y1="280.70" x2="798.10" y2="280.70" stroke-width="1.7" />
<line x1="807.60" y1="280.70" x2="810.30" y2="280.70" stroke-width="1.7" />
<line x1="818.70" y1="280.70" x2="831.30" y2="280.70" stroke-width="1.7" />
<line x1="754.50" y1="194.80" x2="754.50" y2="208.20" stroke-width="1.7" />
<line x1="754.50" y1="218.60" x2="754.50" y2="220.40" stroke-width="1.7" />
<line x1="754.50" y1="229.80" x2="754.50" y2="240.80" stroke-width="1.7" />
<line x1="860.50" y1="405.00" x2="876.50" y2="407.20" stroke-width="2.8" />
<line x1="884.20" y1="408.20" x2="900.30" y2="409.50" stroke-width="2.8" />
<line x1="907.50" y1="409.60" x2="924.00" y2="410.20" stroke-width="2.8" />
<line x1="930.20" y1="410.80" x2="946.20" y2="411.00" stroke-width="2.8" />
<line x1="954.00" y1="411.00" x2="966.00" y2="411.50" stroke-width="2.8" />
<line x1="909.20" y1="414.30" x2="909.20" y2="425.40" stroke-width="2.8" />
<line x1="918.50" y1="414.30" x2="918.50" y2="425.40" stroke-width="2.8" />
<line x1="909.20" y1="429.30" x2="909.20" y2="436.00" stroke-width="2.8" />
<line x1="918.50" y1="429.30" x2="918.50" y2="436.00" stroke-width="2.8" />
<line x1="913.80" y1="414.00" x2="913.80" y2="436.00" stroke-width="1.0" />
<circle cx="914" cy="445" r="1" class="ar"/>
</g></svg></body></html>
